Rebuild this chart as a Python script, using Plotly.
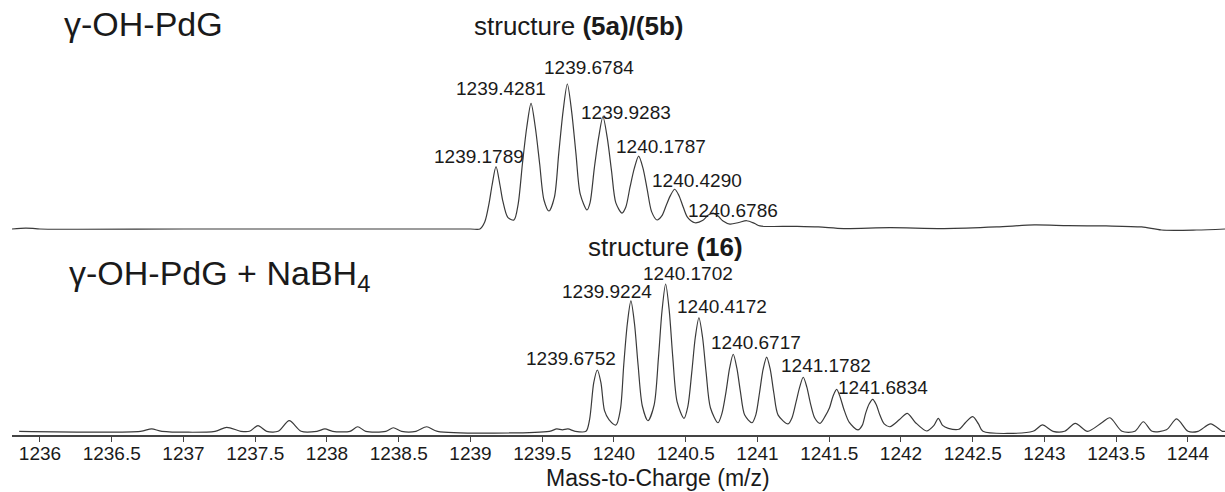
import plotly.graph_objects as go

# ---------------- data ----------------
# Top spectrum: gamma-OH-PdG  (m/z, relative intensity)
top_mz = [1235.805, 1235.90, 1235.95, 1236.0, 1237.0, 1238.0, 1239.00, 1239.066,
          1239.100, 1239.130, 1239.150, 1239.178, 1239.206, 1239.226, 1239.260, 1239.303,
          1239.332, 1239.362, 1239.392, 1239.422, 1239.452, 1239.482, 1239.512, 1239.547,
          1239.585, 1239.615, 1239.645, 1239.675, 1239.705, 1239.735, 1239.765, 1239.812,
          1239.833, 1239.863, 1239.893, 1239.923, 1239.953, 1239.983, 1240.013, 1240.056,
          1240.082, 1240.112, 1240.142, 1240.172, 1240.202, 1240.232, 1240.262, 1240.300,
          1240.333, 1240.363, 1240.393, 1240.423, 1240.453, 1240.483, 1240.513, 1240.564,
          1240.620, 1240.655, 1240.690, 1240.725, 1240.760, 1240.808,
          1240.870, 1240.925, 1240.980, 1241.017,
          1241.250, 1241.424, 1241.600, 1241.923, 1242.30, 1242.667, 1242.929,
          1243.166, 1243.429, 1243.677, 1243.816, 1244.060, 1244.258]
top_int = [0.0, 0.6, 0.4, 0.0, 0.0, 0.0, 0.0, 0.0,
           5.0, 18.0, 30.0, 43.0, 30.0, 19.0, 8.0, 6.2,
           17.0, 45.0, 70.0, 86.7, 70.0, 45.0, 20.0, 12.4,
           22.0, 52.0, 81.0, 100.0, 81.0, 52.0, 24.0, 13.1,
           18.0, 42.0, 63.0, 77.4, 63.0, 40.0, 18.0, 11.0,
           15.0, 29.0, 42.0, 50.3, 42.0, 27.0, 12.0, 6.2,
           9.0, 16.0, 23.0, 27.4, 23.0, 15.0, 8.0, 4.3,
           6.0, 9.5, 11.0, 9.0, 5.5, 3.4,
           4.5, 5.7, 3.8, 2.1,
           1.8, 1.4, 0.3, 0.9, 0.3, 1.4, 2.8,
           2.3, 2.1, 1.4, -0.7, -0.7, 0.0]

# Bottom spectrum: gamma-OH-PdG + NaBH4
bot_mz = [1235.855, 1236.70, 1236.778, 1236.85, 1237.22, 1237.301, 1237.40,
          1237.46, 1237.519, 1237.58, 1237.66, 1237.737, 1237.82, 1237.93,
          1237.986, 1238.04, 1238.16, 1238.214, 1238.27, 1238.41, 1238.462,
          1238.52, 1238.62, 1238.695, 1238.77, 1239.55, 1239.601, 1239.640,
          1239.679, 1239.73, 1239.805,
          1239.830, 1239.859, 1239.884, 1239.909, 1239.934, 1239.965, 1240.014,
          1240.045, 1240.068, 1240.093, 1240.118, 1240.143, 1240.168, 1240.198, 1240.237,
          1240.280, 1240.310, 1240.335, 1240.360, 1240.385, 1240.410, 1240.440, 1240.488,
          1240.515, 1240.542, 1240.567, 1240.592, 1240.617, 1240.642, 1240.672, 1240.725,
          1240.752, 1240.781, 1240.806, 1240.831, 1240.856, 1240.881, 1240.911, 1240.962,
          1240.988, 1241.014, 1241.039, 1241.064, 1241.089, 1241.114, 1241.144, 1241.213,
          1241.240, 1241.269, 1241.294, 1241.319, 1241.344, 1241.369, 1241.399, 1241.436,
          1241.470, 1241.502, 1241.527, 1241.552, 1241.577, 1241.602, 1241.640, 1241.700,
          1241.730, 1241.753, 1241.778, 1241.803, 1241.828, 1241.853, 1241.883, 1241.923,
          1241.990, 1242.044, 1242.100, 1242.179, 1242.230, 1242.260, 1242.290,
          1242.330, 1242.404, 1242.450, 1242.500, 1242.540, 1242.571,
          1242.92, 1242.985, 1243.06,
          1243.14, 1243.215, 1243.30, 1243.399, 1243.456, 1243.54, 1243.63,
          1243.689, 1243.75, 1243.85, 1243.921, 1244.00, 1244.07, 1244.158,
          1244.24, 1244.258]
bot_int = [0.0, 0.0, 1.6, 0.0, 0.0, 2.7, 0.0,
           0.0, 3.8, 0.0, 0.0, 7.2, 0.0, 0.0,
           1.6, 0.0, 0.0, 3.1, 0.0, 0.0, 2.4,
           0.0, 0.0, 3.1, 0.0, 0.0, 1.6, 1.0,
           1.6, 0.0, 0.0,
           8.0, 33.0, 41.6, 33.0, 14.0, 8.0, 4.3,
           15.0, 45.0, 73.0, 88.5, 73.0, 45.0, 17.0, 7.2,
           18.0, 50.0, 82.0, 100.0, 82.0, 50.0, 20.0, 8.8,
           17.0, 40.0, 64.0, 77.1, 64.0, 40.0, 16.0, 5.8,
           12.0, 27.0, 43.0, 52.3, 43.0, 27.0, 11.0, 5.8,
           11.0, 26.0, 42.0, 50.4, 42.0, 26.0, 11.0, 5.0,
           9.0, 20.0, 30.0, 36.7, 30.0, 19.0, 9.0, 5.4,
           10.0, 16.0, 24.0, 28.5, 23.0, 15.0, 6.0, 0.9,
           4.0, 12.0, 18.5, 21.7, 18.0, 11.0, 5.0, 3.1,
           8.0, 12.2, 6.0, 0.2, 4.0, 8.8, 4.0,
           2.0, 1.4, 6.0, 9.9, 5.0, 0.0,
           0.0, 4.3, 0.0,
           0.0, 5.4, 0.0, 5.8, 9.2, 0.0, 0.0,
           6.5, 0.0, 1.0, 8.4, 0.0, 0.0, 5.0,
           0.0, 0.0]

# Labelled peaks: (m/z of apex on the drawn axis, intensity, label text)
top_peak_mz = [1239.178, 1239.422, 1239.675, 1239.923, 1240.172, 1240.423, 1240.690]
top_peak_int = [43.0, 86.7, 100.0, 77.4, 50.3, 27.4, 11.0]
top_peak_lbl = ["1239.1789", "1239.4281", "1239.6784", "1239.9283",
                "1240.1787", "1240.4290", "1240.6786"]

bot_peak_mz = [1239.884, 1240.118, 1240.360, 1240.592, 1240.831, 1241.319, 1241.803]
bot_peak_int = [41.6, 88.5, 100.0, 77.1, 52.3, 36.7, 21.7]
bot_peak_lbl = ["1239.6752", "1239.9224", "1240.1702", "1240.4172",
                "1240.6717", "1241.1782", "1241.6834"]

tick_vals = [1236 + 0.5 * i for i in range(17)]
tick_text = ["1236", "1236.5", "1237", "1237.5", "1238", "1238.5", "1239", "1239.5",
             "1240", "1240.5", "1241", "1241.5", "1242", "1242.5", "1243", "1243.5", "1244"]

# ---------------- styling ----------------
FONT = "Liberation Sans, Arial, sans-serif"
LINE_COLOR = "#3a3a3a"
TEXT_COLOR = "#1a1a1a"

# label offsets in pixels (xshift, yshift)
top_shift = [(-17, 10), (-30, 15), (22, 17), (23, 4), (22, 10), (22, 9), (20, 3)]
bot_shift = [(-26, 12), (-24, 9), (22, 11), (23, 11), (23, 12), (23, 12), (10, 12)]

fig = go.Figure()
fig.add_trace(go.Scatter(x=top_mz, y=top_int, mode="lines", yaxis="y2",
                         line=dict(color=LINE_COLOR, width=1.2, shape="spline", smoothing=0.8),
                         hoverinfo="skip", showlegend=False, cliponaxis=False))
fig.add_trace(go.Scatter(x=bot_mz, y=bot_int, mode="lines", yaxis="y",
                         line=dict(color=LINE_COLOR, width=1.2, shape="spline", smoothing=0.8),
                         hoverinfo="skip", showlegend=False))

ann = []
for mz, it, lb, (dx, dy) in zip(top_peak_mz, top_peak_int, top_peak_lbl, top_shift):
    ann.append(dict(x=mz, y=it, xref="x", yref="y2", text=lb, showarrow=False,
                    xshift=dx, yshift=dy, xanchor="center", yanchor="middle",
                    font=dict(size=19, color=TEXT_COLOR, family=FONT)))
for mz, it, lb, (dx, dy) in zip(bot_peak_mz, bot_peak_int, bot_peak_lbl, bot_shift):
    ann.append(dict(x=mz, y=it, xref="x", yref="y", text=lb, showarrow=False,
                    xshift=dx, yshift=dy, xanchor="center", yanchor="middle",
                    font=dict(size=19, color=TEXT_COLOR, family=FONT)))

ann.append(dict(x=1239.753, y=139.7, xref="x", yref="y2", showarrow=False,
                text="structure <b>(5a)/(5b)</b>", xanchor="center", yanchor="middle",
                font=dict(size=26, color=TEXT_COLOR, family=FONT)))
ann.append(dict(x=1240.362, y=125.3, xref="x", yref="y", showarrow=False,
                text="structure <b>(16)</b>", xanchor="center", yanchor="middle",
                font=dict(size=26, color=TEXT_COLOR, family=FONT)))
ann.append(dict(x=0.0412, y=0.945, xref="paper", yref="paper", showarrow=False,
                text="γ-OH-PdG", xanchor="left", yanchor="middle",
                font=dict(size=34, color=TEXT_COLOR, family=FONT)))
ann.append(dict(x=0.0453, y=0.367, xref="paper", yref="paper", showarrow=False,
                text="γ-OH-PdG + NaBH<sub>4</sub>", xanchor="left", yanchor="middle",
                font=dict(size=34, color=TEXT_COLOR, family=FONT)))
ann.append(dict(x=0.5326, y=-0.0989, xref="paper", yref="paper", showarrow=False,
                text="Mass-to-Charge (m/z)", xanchor="center", yanchor="middle",
                font=dict(size=23, color=TEXT_COLOR, family=FONT)))

fig.update_layout(
    width=1225, height=492,
    margin=dict(l=12, r=0, t=0, b=57),
    paper_bgcolor="white", plot_bgcolor="white",
    font=dict(family=FONT, color=TEXT_COLOR),
    showlegend=False,
    xaxis=dict(range=[1235.805, 1244.258], showgrid=False, zeroline=False,
               showline=True, linecolor="#444444", linewidth=1.5,
               ticks="outside", ticklen=5, tickwidth=1.2, tickcolor="#444444",
               ticklabelstandoff=-5,
               tickvals=tick_vals, ticktext=tick_text,
               tickfont=dict(size=19, color=TEXT_COLOR, family=FONT)),
    yaxis=dict(domain=[0, 0.5], range=[-2.512, 145.15], visible=False, fixedrange=True),
    yaxis2=dict(domain=[0.4, 1.0], range=[-22.07, 157.93], visible=False,
                anchor="x", fixedrange=True),
    annotations=ann,
)

fig.write_html("out.html")
